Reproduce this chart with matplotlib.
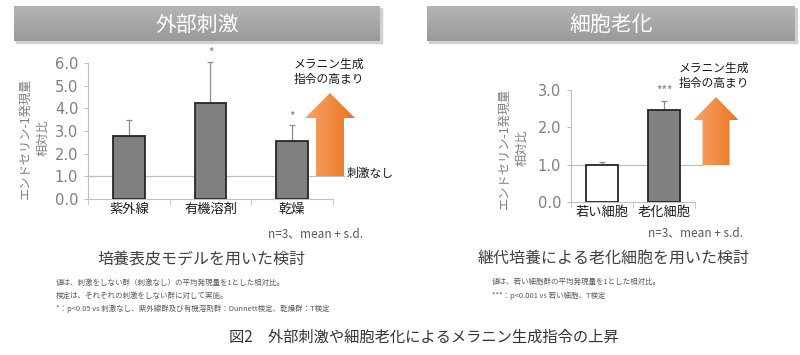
import numpy as np
import matplotlib.pyplot as plt
from matplotlib.patches import Polygon, Rectangle
from matplotlib.colors import LinearSegmentedColormap

plt.rcParams['font.family'] = ['Noto Sans CJK JP', 'DejaVu Sans']

# data
left_cats = ['紫外線', '有機溶剤', '乾燥']
left_vals = [2.78, 4.25, 2.55]
left_sd = [0.72, 1.80, 0.70]
left_marks = ['', '*', '*']
left_ticks = [0.0, 1.0, 2.0, 3.0, 4.0, 5.0, 6.0]

right_cats = ['若い細胞', '老化細胞']
right_vals = [1.0, 2.47]
right_sd = [0.08, 0.23]
right_marks = ['', '***']
right_ticks = [0.0, 1.0, 2.0, 3.0]

W, H = 800, 355
fig = plt.figure(figsize=(W / 100, H / 100), dpi=100)

def px_axes(x0, y0, x1, y1, **kw):
    # pixel box (top-left origin) -> figure axes
    return fig.add_axes([x0 / W, (H - y1) / H, (x1 - x0) / W, (y1 - y0) / H], **kw)

GRAY_TXT = '#7f7f7f'
SPINE = '#bfbfbf'

def bar_panel(ax, cats, vals, sd, marks, ticks, colors, width, line_end):
    x = np.arange(len(cats))
    ax.bar(x, vals, width=width, color=colors, edgecolor='#262626', linewidth=1.3, zorder=3)
    ax.errorbar(x, vals, yerr=[np.zeros(len(sd)), sd], fmt='none', ecolor='#8c8c8c',
                elinewidth=0.9, capsize=2.5, capthick=0.9, zorder=2, clip_on=False)
    for xi, v, s, m in zip(x, vals, sd, marks):
        if m:
            ax.text(xi, v + s + 0.08, m, ha='center', va='bottom', fontsize=8.5,
                    color=GRAY_TXT, clip_on=False)
    ax.hlines(1.0, 0, line_end, transform=ax.get_yaxis_transform(), color='#bfbfbf',
              linewidth=0.9, clip_on=False, zorder=1)
    ax.set_xlim(-0.5, len(cats) - 0.5)
    ax.set_ylim(0, ticks[-1])
    ax.set_yticks(ticks)
    ax.set_yticklabels([f'{t:.1f}' for t in ticks], fontsize=10.5, color=GRAY_TXT,
                       family=['DejaVu Sans'])
    ax.set_xticks(x)
    ax.set_xticklabels(cats, fontsize=9.5, color='#1a1a1a')
    ax.set_xticks(np.arange(len(cats) + 1) - 0.5, minor=True)
    ax.tick_params(axis='x', which='major', length=0, pad=3)
    ax.tick_params(axis='x', which='minor', length=4, color=SPINE)
    ax.tick_params(axis='y', length=3, color=SPINE, pad=4)
    for s in ['top', 'right']:
        ax.spines[s].set_visible(False)
    for s in ['left', 'bottom']:
        ax.spines[s].set_color(SPINE)
    ax.patch.set_alpha(0)

axL = px_axes(88, 63, 333, 199)
bar_panel(axL, left_cats, left_vals, left_sd, left_marks, left_ticks,
          ['#808080'] * 3, 0.39, 1.05)

axR = px_axes(571, 90, 695, 202)
bar_panel(axR, right_cats, right_vals, right_sd, right_marks, right_ticks,
          ['white', '#808080'], 0.53, 1.065)

# overlay in pixel coordinates for banners, arrows and notes
ov = fig.add_axes([0, 0, 1, 1], zorder=5)
ov.set_xlim(0, W)
ov.set_ylim(H, 0)
ov.axis('off')
ov.patch.set_alpha(0)

banner_cmap = LinearSegmentedColormap.from_list('banner', ['#b4b4b4', '#9a9a9a'])
arrow_cmap = LinearSegmentedColormap.from_list('arrow', ['#f5a468', '#ed741e'])

def banner(x0, x1, y0, y1, label):
    ov.add_patch(Rectangle((x0 + 1.5, y0 + 2), x1 - x0, y1 - y0, color='#d0d0d0', zorder=1))
    grad = np.linspace(0, 1, 64).reshape(-1, 1)
    ov.imshow(grad, cmap=banner_cmap, extent=(x0, x1, y1, y0), aspect='auto', zorder=2)
    ov.text((x0 + x1) / 2, (y0 + y1) / 2 + 1, label, ha='center', va='center',
            fontsize=15, color='white', zorder=3)

def up_arrow(cx, top, head_base, bottom, head_w, shaft_w):
    pts = [(cx - shaft_w / 2, bottom), (cx - shaft_w / 2, head_base),
           (cx - head_w / 2, head_base), (cx, top), (cx + head_w / 2, head_base),
           (cx + shaft_w / 2, head_base), (cx + shaft_w / 2, bottom)]
    poly = Polygon(pts, closed=True, facecolor='none', edgecolor='none')
    ov.add_patch(poly)
    grad = np.linspace(0, 1, 64).reshape(1, -1)
    im = ov.imshow(grad, cmap=arrow_cmap, aspect='auto', zorder=4,
                   extent=(cx - head_w / 2, cx + head_w / 2, bottom, top))
    im.set_clip_path(poly)

banner(14, 380, 6, 41, '外部刺激')
banner(427, 795, 6, 41, '細胞老化')

up_arrow(330, 93, 118, 176, 50, 28)
up_arrow(716, 97, 120, 165, 45, 27)

ov.text(329, 72, 'メラニン生成\n指令の高まり', ha='center', va='center', fontsize=8.5,
        color='#1a1a1a', linespacing=1.3)
ov.text(714, 76, 'メラニン生成\n指令の高まり', ha='center', va='center', fontsize=8.5,
        color='#1a1a1a', linespacing=1.3)
ov.text(347, 173, '刺激なし', ha='left', va='center', fontsize=8.5, color='#1a1a1a')

ylab = 'エンドセリン-1発現量\n相対比'
ov.text(34, 138, ylab, rotation=90, ha='center', va='center', fontsize=8.8,
        color=GRAY_TXT, linespacing=1.45)
ov.text(513, 148, ylab, rotation=90, ha='center', va='center', fontsize=8.8,
        color=GRAY_TXT, linespacing=1.45)

ov.text(363, 234, 'n=3、mean + s.d.', ha='right', va='center', fontsize=8.5, color='#595959')
ov.text(743, 233, 'n=3、mean + s.d.', ha='right', va='center', fontsize=8.5, color='#595959')

ov.text(201, 259, '培養表皮モデルを用いた検討', ha='center', va='center', fontsize=11.5,
        color='#404040')
ov.text(614, 258, '継代培養による老化細胞を用いた検討', ha='center', va='center',
        fontsize=11.5, color='#404040')

notesL = ['値は、刺激をしない群（刺激なし）の平均発現量を1とした相対比。',
          '検定は、それぞれの刺激をしない群に対して実施。',
          '*：p<0.05 vs 刺激なし、紫外線群及び有機溶剤群：Dunnett検定、乾燥群：T検定']
for i, t in enumerate(notesL):
    ov.text(56, 283 + i * 13, t, ha='left', va='center', fontsize=5.4, color='#595959')
notesR = ['値は、若い細胞群の平均発現量を1とした相対比。',
          '***：p<0.001 vs 若い細胞、T検定']
for i, t in enumerate(notesR):
    ov.text(492, 282 + i * 14, t, ha='left', va='center', fontsize=5.4, color='#595959')

ov.text(424, 337, '図2　外部刺激や細胞老化によるメラニン生成指令の上昇', ha='center',
        va='center', fontsize=11, color='#333333')

fig.savefig('out.png', dpi=100, facecolor='white')
